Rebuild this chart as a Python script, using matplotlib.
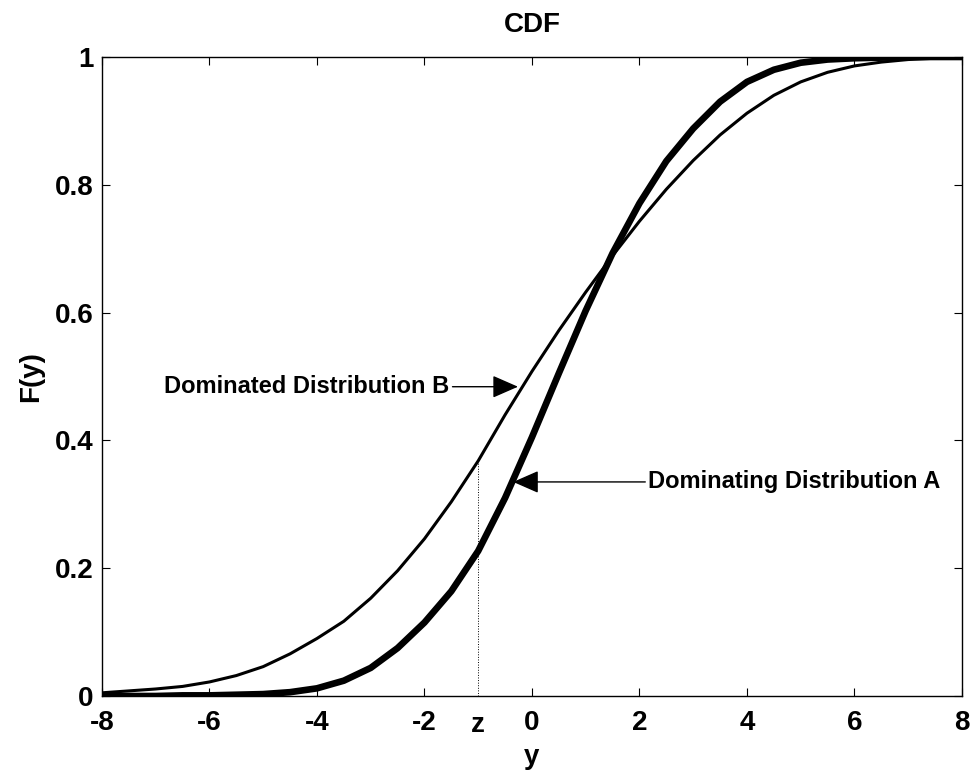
import numpy as np
import matplotlib
matplotlib.use("Agg")
import matplotlib.pyplot as plt

# values
y_grid = [-8, -7.5, -7, -6.5, -6, -5.5, -5, -4.5, -4, -3.5, -3, -2.5, -2, -1.5,
          -1, -0.5, 0, 0.5, 1, 1.5, 2, 2.5, 3, 3.5, 4, 4.5, 5, 5.5, 6, 6.5,
          7, 7.5, 8]

# dominating distribution A (thick line)
cdf_a = [0.000, 0.000, 0.000, 0.001, 0.001, 0.002, 0.003, 0.006, 0.012, 0.024,
         0.044, 0.075, 0.115, 0.164, 0.227, 0.310, 0.405, 0.505, 0.603, 0.693,
         0.771, 0.837, 0.888, 0.930, 0.961, 0.980, 0.991, 0.996, 0.998, 0.999,
         1.000, 1.000, 1.000]

# dominated distribution B (thin line)
cdf_b = [0.005, 0.008, 0.011, 0.015, 0.022, 0.032, 0.046, 0.066, 0.090, 0.117,
         0.153, 0.196, 0.246, 0.304, 0.368, 0.440, 0.508, 0.572, 0.632, 0.689,
         0.743, 0.793, 0.838, 0.878, 0.912, 0.940, 0.961, 0.976, 0.986, 0.992,
         0.996, 0.998, 0.999]

z_value = -1
z_cdf_b = 0.368

x_ticks = [-8, -6, -4, -2, 0, 2, 4, 6, 8]
y_ticks = [0, 0.2, 0.4, 0.6, 0.8, 1]
y_tick_labels = ["0", "0.2", "0.4", "0.6", "0.8", "1"]

plt.rcParams["font.family"] = ["Liberation Sans", "DejaVu Sans"]
plt.rcParams["font.weight"] = "bold"

fig = plt.figure(figsize=(9.71, 7.73), dpi=100)
ax = fig.add_axes([0.105, 0.0996, 0.8857, 0.8267])

ax.plot(y_grid, cdf_b, color="k", lw=2.2, solid_joinstyle="round")
ax.plot(y_grid, cdf_a, color="k", lw=4.8, solid_joinstyle="round")

# vertical dotted line at z
ax.plot([z_value, z_value], [0, z_cdf_b], color="k", lw=0.7, ls=":")

ax.set_xlim(-8, 8)
ax.set_ylim(0, 1)
ax.set_xticks(x_ticks)
ax.set_xticklabels([str(t) for t in x_ticks])
ax.set_yticks(y_ticks)
ax.set_yticklabels(y_tick_labels)
ax.tick_params(direction="in", length=6, width=0.8, labelsize=20,
               top=True, right=True)
ax.tick_params(axis="x", pad=10)
ax.tick_params(axis="y", pad=6)
for lab in ax.get_xticklabels() + ax.get_yticklabels():
    lab.set_fontweight("bold")
for sp in ax.spines.values():
    sp.set_linewidth(1.0)

ax.text(z_value, -0.057, "z", ha="center", va="baseline", fontsize=20,
        fontweight="bold", clip_on=False)

ax.set_title("CDF", fontsize=20, fontweight="bold", pad=18)
ax.set_xlabel("y", fontsize=20, fontweight="bold", labelpad=6)
ax.set_ylabel("F(y)", fontsize=20, fontweight="bold", labelpad=8)

arrow = dict(arrowstyle="-|>,head_length=0.8,head_width=0.35", color="k",
             lw=1.0, mutation_scale=20, shrinkA=0, shrinkB=0)
ax.annotate("Dominated Distribution B", xy=(-0.26, 0.484), xytext=(-1.53, 0.484),
            ha="right", va="center", fontsize=17, fontweight="bold",
            arrowprops=arrow)
ax.annotate("Dominating Distribution A", xy=(-0.35, 0.335), xytext=(2.16, 0.335),
            ha="left", va="center", fontsize=17, fontweight="bold",
            arrowprops=arrow)

fig.savefig("out.png", dpi=100)
